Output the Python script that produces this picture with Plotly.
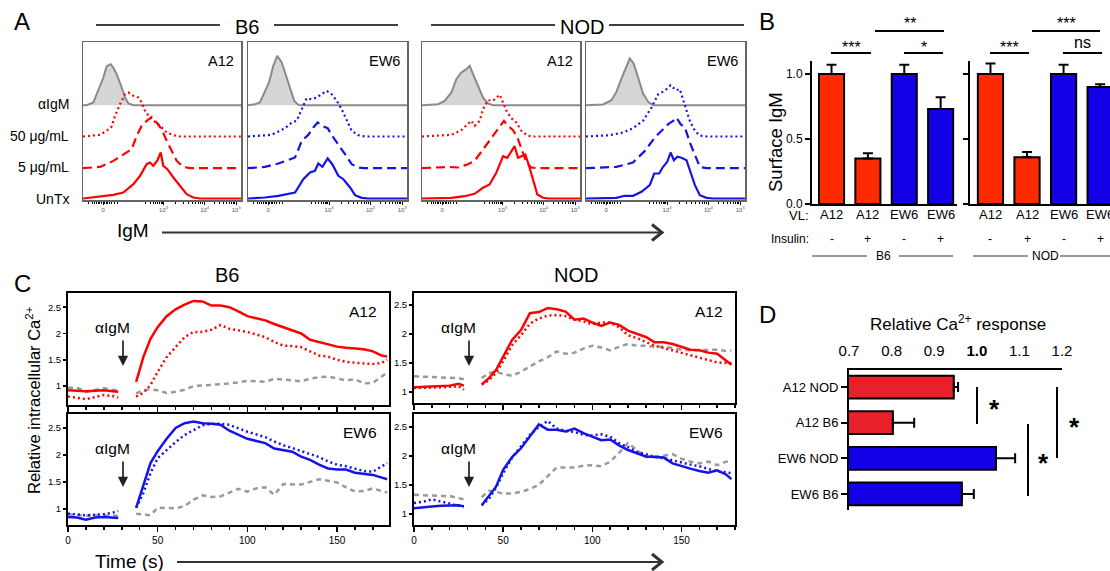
import math
import plotly.graph_objects as go

W, H = 1110, 571
FONT = "Liberation Sans, Arial, Helvetica, sans-serif"
RED = "#ff0000"
BLUE = "#1414e6"
GRAY_LINE = "#8a8a8a"
GRAY_FILL = "#d6d6d6"
CA_GRAY = "#9a9a9a"
BAR_RED = "#ff2a00"
BAR_BLUE = "#1400e6"
D_RED = "#e8202a"
D_BLUE = "#1400e6"

# ---------------- DATA ----------------
# Panel A: IgM histograms (x = position across log/biex IgM axis, 0-100; y = normalised count)
HIST_TICKS = [12.7, 51, 77, 97]
HIST_TICKTEXT = ["0", "10<sup>3</sup>", "10<sup>4</sup>", "10<sup>5</sup>"]
HIST_ROWS = ["UnTx", "5 μg/mL", "50 μg/mL", "αIgM"]
HIST_OFFSETS = [0, 30.3, 62, 93.3]

b6_a12_gray = [(0, 0), (2.3, 0), (6.5, 2.7), (9.7, 14.3), (12.9, 27.7), (15, 39), (17.5, 41), (19.2, 37.7), (21.7, 29.3), (24.5, 17.7), (26.6, 7.7), (28.7, 1.7), (31.9, 0), (100, 0)]
b6_a12_50 = [(0, 0), (10.8, 1.7), (15, 5.7), (18, 9.7), (20.3, 20.7), (23.4, 32.3), (26.6, 42.3), (28.7, 44), (31.9, 40.7), (35, 39), (37.1, 34), (39.2, 25.7), (42.4, 19), (45.6, 15), (48.7, 10.7), (53, 4), (57.2, 1.3), (61.4, 0), (100, 0)]
b6_a12_5 = [(0, 0), (10.8, 1.3), (19.2, 7.3), (27.6, 15.7), (30.8, 19), (34, 32.3), (37.1, 42.3), (40.3, 47.3), (43.5, 51.3), (46.6, 45.7), (49.8, 39), (53, 27.3), (56.1, 17.3), (59.3, 7.3), (63.5, 1.3), (67.7, 0), (100, 0)]
b6_a12_untx = [(0, 0), (10.8, 1.7), (19.2, 3.7), (25.5, 6), (31.9, 14.3), (36.1, 22.7), (40.3, 34.3), (42.4, 36), (44.5, 32.7), (47, 37.7), (49.2, 46), (50.8, 32.7), (53.4, 29.3), (57.2, 21), (61.4, 12.7), (65.6, 4.3), (69.8, 1), (74, 0), (100, 0)]

b6_ew6_gray = [(0, 0), (4.4, 1), (7.5, 2.7), (10.7, 14.3), (13.2, 22.7), (15.9, 39.3), (18.4, 49.3), (21.2, 42.7), (23.7, 31), (26.4, 16), (29.1, 4.3), (31.7, 0.3), (34, 0), (100, 0)]
b6_ew6_50 = [(0, 0), (14.9, 1.7), (23.3, 8.3), (27.5, 14), (30.6, 15.7), (33.8, 27.3), (36.9, 38.3), (40, 37.3), (43.2, 39), (46.3, 42.3), (49.5, 45.7), (52.6, 42.3), (55.8, 35.7), (58.9, 27.3), (62.1, 15.7), (65.2, 5.7), (69.4, 1.3), (73.5, 0), (100, 0)]
b6_ew6_5 = [(0, 0), (10.7, 1.3), (19.1, 4.7), (25.4, 8), (29.6, 10.7), (33.8, 27.3), (37.9, 33.3), (41.1, 40.7), (43.8, 45.7), (46.8, 42.3), (50.1, 40), (53, 32.3), (56.8, 24), (61, 14), (65.2, 4), (69.4, 0.7), (73, 0), (100, 0)]
b6_ew6_untx = [(0, 0), (10.7, 1), (19.1, 2.7), (24.3, 4.3), (29.6, 6), (34.8, 19.3), (39, 26), (42.1, 27.7), (44.2, 35), (46.8, 31.7), (50.1, 40), (53, 34.3), (56.8, 22.7), (60, 19.3), (64.2, 11), (67.3, 3.3), (71.5, 0.7), (75.7, 0), (100, 0)]

nod_a12_gray = [(0, 0), (10.1, 1), (14.3, 4.3), (18.6, 12.7), (21.7, 26), (24.9, 32.7), (28.1, 36), (30.2, 39.3), (32.3, 31), (35.4, 19.3), (38.6, 7.7), (41.8, 1.7), (45, 0), (100, 0)]
nod_a12_50 = [(0, 0), (18.6, 1.7), (24.9, 6.3), (29.1, 12.3), (31.2, 15.7), (33.3, 10.7), (36.5, 15.7), (38.6, 27.3), (41.8, 36.3), (44.9, 35.7), (47, 39), (49.2, 41.7), (51.3, 34), (53.4, 25.7), (56.5, 18.3), (59.7, 14), (62.9, 5.7), (67.1, 0.7), (71, 0), (100, 0)]
nod_a12_5 = [(0, 0), (16.5, 1.3), (22.8, 0.7), (29.1, 4), (33.3, 7.3), (39.7, 20.7), (46, 34), (49.2, 40.7), (51.9, 47.3), (54.4, 42.3), (57.6, 38), (60.3, 31.3), (63.3, 17.3), (66, 5.7), (69.2, 0.7), (73, 0), (100, 0)]
nod_a12_untx = [(0, 0), (18.6, 0.7), (27, 2.3), (33.3, 4.7), (38.6, 10.7), (42.8, 14), (47, 25.7), (51.3, 42.3), (54, 40.7), (56.1, 45.7), (58.6, 52.3), (60.8, 40.7), (62.9, 42.3), (65.4, 44), (67.5, 34), (70.3, 17.3), (73, 4), (76.6, 0.7), (80, 0), (100, 0)]

nod_ew6_gray = [(0, 0), (10.7, 0.7), (16, 5), (19.1, 13.3), (22.3, 26.7), (25.4, 38.3), (27.5, 46.7), (30, 41.7), (32.8, 26.7), (35.9, 11.7), (39.1, 3.3), (42.2, 0), (100, 0)]
nod_ew6_50 = [(0, 0), (14.9, 1.3), (23.3, 4), (29.6, 8.3), (35.9, 15.7), (41.2, 29), (45.4, 42.3), (49.6, 45.7), (53.2, 51.3), (56.5, 46.3), (59, 47.3), (62.2, 32.3), (65.3, 15.7), (68.5, 5.7), (71.6, 1), (75.8, 0), (100, 0)]
nod_ew6_5 = [(0, 0), (19.1, 1.3), (29.6, 5.7), (37, 17.3), (43.3, 30.7), (47.5, 37.3), (51.7, 44), (54.8, 47.3), (56.9, 50.7), (59.5, 44), (62.2, 40.7), (65.3, 25.7), (68.5, 12.3), (71.6, 1.3), (75.8, 0), (100, 0)]
nod_ew6_untx = [(0, 0), (19.1, 0.7), (24.4, 2.7), (29.6, 2.7), (34.9, 6.7), (40.1, 13.3), (42.9, 25), (46, 25), (48.5, 31.7), (51.1, 36.7), (53.2, 46), (55.3, 38.3), (57.4, 41.7), (60.1, 40.7), (63.2, 38.3), (65.8, 25), (68.5, 13.3), (71.6, 3.3), (75.8, 0.7), (80, 0), (100, 0)]

# Panel B: surface IgM
VL_LABELS = ["A12", "A12", "EW6", "EW6"]
INSULIN = ["-", "+", "-", "+"]
B6_SURFACE = [1.0, 0.35, 1.0, 0.73]
B6_SURFACE_ERR = [0.07, 0.04, 0.07, 0.09]
NOD_SURFACE = [1.0, 0.36, 1.0, 0.90]
NOD_SURFACE_ERR = [0.08, 0.04, 0.07, 0.02]

# Panel C: relative intracellular Ca2+ over time (s); gap while anti-IgM is added
CA_TIME = [0, 5, 10, 15, 20, 25, 28, None, 38, 42, 46, 50, 55, 60, 65, 70, 75, 80, 85, 90, 95, 100,
           105, 110, 115, 120, 125, 130, 135, 140, 145, 150, 155, 160, 165, 170, 175, 178]
b6_a12_ca_untx = [0.92, 0.91, 0.9, 0.91, 0.92, 0.9, 0.89, None, 1.08, 1.55, 1.9, 2.12, 2.33, 2.46, 2.55, 2.62, 2.61, 2.53, 2.53, 2.5, 2.42, 2.33, 2.29, 2.25, 2.18, 2.12, 2.07, 2.0, 1.88, 1.84, 1.8, 1.75, 1.73, 1.71, 1.7, 1.66, 1.58, 1.56]
b6_a12_ca_ins = [0.8, 0.78, 0.75, 0.79, 0.83, 0.81, 0.78, None, 0.8, 0.87, 1.02, 1.27, 1.55, 1.74, 1.93, 2.03, 2.03, 2.07, 2.16, 2.09, 2.06, 2.03, 1.98, 1.93, 1.84, 1.77, 1.76, 1.74, 1.66, 1.58, 1.56, 1.5, 1.46, 1.44, 1.43, 1.42, 1.44, 1.5]
b6_a12_ca_ctrl = [0.97, 0.97, 0.89, 0.93, 0.96, 0.93, 0.92, None, 0.86, 0.92, 0.94, 0.92, 0.87, 0.89, 0.93, 1.0, 1.01, 1.02, 1.03, 1.05, 1.07, 1.1, 1.09, 1.08, 1.14, 1.12, 1.1, 1.09, 1.14, 1.17, 1.18, 1.14, 1.11, 1.13, 1.05, 1.06, 1.18, 1.26]
b6_ew6_ca_untx = [0.85, 0.84, 0.8, 0.84, 0.85, 0.84, 0.83, None, 1.02, 1.42, 1.85, 2.07, 2.3, 2.5, 2.59, 2.62, 2.59, 2.58, 2.56, 2.45, 2.37, 2.3, 2.26, 2.22, 2.12, 2.09, 2.06, 1.97, 1.91, 1.82, 1.75, 1.73, 1.73, 1.67, 1.65, 1.63, 1.58, 1.55]
b6_ew6_ca_ins = [0.91, 0.9, 0.88, 0.89, 0.9, 0.93, 0.96, None, 1.02, 1.29, 1.66, 1.94, 2.09, 2.24, 2.37, 2.46, 2.55, 2.58, 2.58, 2.56, 2.49, 2.43, 2.38, 2.33, 2.25, 2.18, 2.13, 2.07, 2.02, 1.96, 1.88, 1.82, 1.79, 1.74, 1.7, 1.69, 1.8, 1.85]
b6_ew6_ca_ctrl = [0.9, 0.89, 0.87, 0.88, 0.87, 0.87, 0.87, None, 0.91, 0.89, 0.88, 1.02, 1.01, 1.01, 1.05, 1.17, 1.25, 1.22, 1.23, 1.3, 1.37, 1.32, 1.38, 1.4, 1.26, 1.46, 1.46, 1.45, 1.5, 1.55, 1.52, 1.49, 1.4, 1.32, 1.33, 1.38, 1.33, 1.3]
nod_a12_ca_untx = [1.08, 1.09, 1.09, 1.1, 1.11, 1.14, 1.11, None, 1.13, 1.24, 1.38, 1.61, 1.9, 2.07, 2.36, 2.38, 2.45, 2.43, 2.39, 2.25, 2.27, 2.2, 2.14, 2.2, 2.16, 2.06, 2.0, 1.95, 1.86, 1.86, 1.83, 1.78, 1.73, 1.72, 1.68, 1.66, 1.55, 1.47]
nod_a12_ca_ins = [1.07, 1.07, 1.07, 1.08, 1.09, 1.1, 1.04, None, 1.13, 1.2, 1.33, 1.53, 1.81, 1.98, 2.18, 2.27, 2.32, 2.33, 2.31, 2.25, 2.22, 2.17, 2.2, 2.2, 2.12, 1.98, 1.93, 1.87, 1.8, 1.76, 1.72, 1.67, 1.63, 1.6, 1.55, 1.51, 1.5, 1.5]
nod_a12_ca_ctrl = [1.27, 1.27, 1.26, 1.25, 1.24, 1.24, 1.22, None, 1.24, 1.33, 1.35, 1.31, 1.28, 1.35, 1.44, 1.53, 1.6, 1.7, 1.66, 1.68, 1.75, 1.8, 1.77, 1.72, 1.78, 1.83, 1.8, 1.8, 1.78, 1.78, 1.76, 1.73, 1.72, 1.72, 1.73, 1.73, 1.71, 1.72]
nod_ew6_ca_untx = [1.1, 1.12, 1.13, 1.14, 1.14, 1.15, 1.13, None, 1.15, 1.3, 1.47, 1.76, 1.98, 2.13, 2.33, 2.54, 2.45, 2.45, 2.42, 2.47, 2.39, 2.33, 2.27, 2.28, 2.18, 2.1, 2.04, 1.99, 1.98, 1.97, 1.87, 1.82, 1.78, 1.74, 1.71, 1.75, 1.68, 1.6]
nod_ew6_ca_ins = [1.19, 1.21, 1.25, 1.22, 1.18, 1.14, 1.13, None, 1.15, 1.26, 1.45, 1.7, 1.97, 2.16, 2.36, 2.5, 2.6, 2.47, 2.43, 2.41, 2.36, 2.35, 2.37, 2.33, 2.22, 2.15, 2.07, 2.03, 1.98, 1.96, 1.92, 1.88, 1.85, 1.82, 1.78, 1.73, 1.72, 1.7]
nod_ew6_ca_ctrl = [1.33, 1.32, 1.31, 1.31, 1.31, 1.28, 1.25, None, 1.29, 1.4, 1.38, 1.35, 1.35, 1.38, 1.43, 1.5, 1.65, 1.8, 1.8, 1.8, 1.83, 1.84, 1.82, 1.9, 2.05, 2.22, 2.1, 1.98, 1.99, 2.0, 2.03, 1.95, 1.9, 1.87, 1.9, 1.84, 1.9, 1.9]
CA_YTICKS = [1, 1.5, 2, 2.5]
CA_XTICKS = [0, 50, 100, 150]

# Panel D: relative Ca2+ response
D_LABELS = ["A12 NOD", "A12 B6", "EW6 NOD", "EW6 B6"]
D_VALUES = [0.946, 0.803, 1.045, 0.965]
D_ERR = [0.01, 0.05, 0.045, 0.028]
D_TICKS = [0.7, 0.8, 0.9, 1.0, 1.1, 1.2]


# ---------------- helpers ----------------
def fx(p):
    return p / W


def fy(p):
    return 1 - p / H


def ax_id(i, letter):
    return letter if i == 1 else f"{letter}{i}"


def ax_key(i, letter):
    return f"{letter}axis" if i == 1 else f"{letter}axis{i}"


fig = go.Figure()
layout = {}
annotations = []
shapes = []


def text(x, y, s, size, anchor="center", angle=0, color="black", yanchor="middle"):
    annotations.append(dict(x=fx(x), y=fy(y), xref="paper", yref="paper", text=s, showarrow=False,
                            xanchor=anchor, yanchor=yanchor, textangle=angle,
                            font=dict(size=size, color=color, family=FONT)))


def hline(x0, x1, y, color="black", width=1.5):
    shapes.append(dict(type="line", xref="paper", yref="paper", x0=fx(x0), x1=fx(x1), y0=fy(y), y1=fy(y),
                       line=dict(color=color, width=width)))


def vline(x, y0, y1, color="black", width=1.5):
    shapes.append(dict(type="line", xref="paper", yref="paper", x0=fx(x), x1=fx(x), y0=fy(y0), y1=fy(y1),
                       line=dict(color=color, width=width)))


def long_arrow(x0, x1, y):
    hline(x0, x1 - 2, y, color="#333333", width=2)
    shapes.append(dict(type="path", xref="paper", yref="paper",
                       path=f"M {fx(x1-10)},{fy(y-8)} L {fx(x1)},{fy(y)} L {fx(x1-10)},{fy(y+8)}",
                       line=dict(color="#333333", width=3)))


# ---------------- Panel A ----------------
minor_hist = ([12.7 + d for d in (-9, -7, -5.5, -4, -3, -2, -1, 1, 2, 3, 4, 5.5, 7, 9)]
              + [35 + 16 * math.log10(k) for k in range(2, 10)]
              + [51 + 26 * math.log10(k) for k in range(2, 10)]
              + [77 + 20 * math.log10(k) for k in range(2, 10)])

hist_boxes = [
    ((83, 241), "A12", RED, b6_a12_gray, b6_a12_50, b6_a12_5, b6_a12_untx),
    ((248, 407), "EW6", BLUE, b6_ew6_gray, b6_ew6_50, b6_ew6_5, b6_ew6_untx),
    ((422, 580), "A12", RED, nod_a12_gray, nod_a12_50, nod_a12_5, nod_a12_untx),
    ((586, 745), "EW6", BLUE, nod_ew6_gray, nod_ew6_50, nod_ew6_5, nod_ew6_untx),
]
for i, ((x0, x1), name, col, g, d50, d5, un) in enumerate(hist_boxes, start=1):
    xa, ya = ax_id(i, "x"), ax_id(i, "y")
    layout[ax_key(i, "x")] = dict(domain=[fx(x0), fx(x1)], range=[0, 100], anchor=ya, automargin=False,
                                  showline=True, mirror=True, linecolor="#666666", linewidth=1.5,
                                  showgrid=False, zeroline=False, tickvals=HIST_TICKS, ticktext=HIST_TICKTEXT,
                                  ticks="outside", ticklen=3, tickcolor="black", tickwidth=1,
                                  minor=dict(tickvals=minor_hist, ticks="outside", ticklen=2, tickcolor="black"),
                                  tickfont=dict(size=6, color="#555555", family=FONT))
    layout[ax_key(i, "y")] = dict(domain=[fy(200), fy(42)], range=[-1.5, 156.5], anchor=xa, automargin=False,
                                  showline=True, mirror=True, linecolor="#666666", linewidth=1.5,
                                  showgrid=False, zeroline=False, showticklabels=False, ticks="")
    off = HIST_OFFSETS
    fig.add_trace(go.Scatter(x=[p[0] for p in g], y=[off[3] + p[1] for p in g], mode="lines",
                             fill="toself", fillcolor=GRAY_FILL, line=dict(color=GRAY_LINE, width=2),
                             xaxis=xa, yaxis=ya, showlegend=False, hoverinfo="skip"))
    fig.add_trace(go.Scatter(x=[p[0] for p in d50], y=[off[2] + p[1] for p in d50], mode="lines",
                             line=dict(color=col, width=2.2, dash="2px,3px"),
                             xaxis=xa, yaxis=ya, showlegend=False))
    fig.add_trace(go.Scatter(x=[p[0] for p in d5], y=[off[1] + p[1] for p in d5], mode="lines",
                             line=dict(color=col, width=2.2, dash="9px,5px"),
                             xaxis=xa, yaxis=ya, showlegend=False))
    fig.add_trace(go.Scatter(x=[p[0] for p in un], y=[off[0] + p[1] for p in un], mode="lines",
                             line=dict(color=col, width=2.2),
                             xaxis=xa, yaxis=ya, showlegend=False))
    text(x1 - 5, 61, name, 14.5, anchor="right")

row_y = [199, 167, 136, 104]
for lab, yy in zip(HIST_ROWS, row_y):
    text(71, yy, lab, 14, anchor="right")

text(22, 22, "A", 24)
text(247, 27, "B6", 20)
hline(96, 220, 25)
hline(274, 398, 25)
text(582, 27, "NOD", 20)
hline(431, 555, 25)
hline(609, 744, 25)
text(133, 231, "IgM", 19)
long_arrow(162, 662, 232.5)

# ---------------- Panel B ----------------
b_cols = [BAR_RED, BAR_RED, BAR_BLUE, BAR_BLUE]
b_specs = [
    (5, (812, 957), [-0.537, 3.45], B6_SURFACE, B6_SURFACE_ERR, True),
    (6, (970, 1110), [-0.56, 3.27], NOD_SURFACE, NOD_SURFACE_ERR, False),
]
for i, (xd0, xd1), xr, vals, errs, labels in b_specs:
    xa, ya = ax_id(i, "x"), ax_id(i, "y")
    layout[ax_key(i, "x")] = dict(domain=[fx(xd0), fx(xd1)], range=xr, anchor=ya, showline=True, automargin=False,
                                  linecolor="black", linewidth=2, showgrid=False, zeroline=False,
                                  showticklabels=False, ticks="")
    layout[ax_key(i, "y")] = dict(domain=[fy(204), fy(60.9)], range=[0, 1.1], anchor=xa, showline=True,
                                  automargin=False,
                                  linecolor="black", linewidth=2, showgrid=False, zeroline=False,
                                  tickvals=[0, 0.5, 1.0], ticktext=["0.0", "0.5", "1.0"],
                                  showticklabels=labels, ticks="outside", ticklen=5, tickwidth=1.5,
                                  tickcolor="black", tickfont=dict(size=12, family=FONT, color="black"))
    fig.add_trace(go.Bar(x=[0, 1, 2, 3], y=vals, width=0.69, marker=dict(color=b_cols, line=dict(color="black", width=2)),
                         error_y=dict(type="data", array=errs, arrayminus=[0, 0, 0, 0], symmetric=False,
                                      color="black", thickness=2, width=5),
                         xaxis=xa, yaxis=ya, showlegend=False))
    for k in range(4):
        annotations.append(dict(x=k, y=fy(214), xref=xa, yref="paper", text=VL_LABELS[k], showarrow=False,
                                font=dict(size=13, family=FONT, color="black")))
        annotations.append(dict(x=k, y=fy(239), xref=xa, yref="paper", text=INSULIN[k], showarrow=False,
                                font=dict(size=12, family=FONT, color="black")))

text(767, 22, "B", 24)
text(776, 142, "Surface IgM", 18.5, angle=-90)
text(811, 215, "VL:", 13, anchor="right")
text(811, 239, "Insulin:", 12, anchor="right")
text(883, 256, "B6", 12)
hline(812, 867, 256, color="#333333", width=1.2)
hline(899, 953, 256, color="#333333", width=1.2)
text(1045, 256, "NOD", 12)
hline(973, 1028, 256, color="#333333", width=1.2)
hline(1060, 1110, 256, color="#333333", width=1.2)
# significance
for (xs0, xs1, yl, lab, ylab) in [(831, 871, 53, "***", 47), (904, 943, 53, "*", 47), (875, 944, 31, "**", 24),
                                  (990, 1029, 53, "***", 47), (1063, 1102, 53, "ns", 43), (1032, 1100, 31, "***", 24)]:
    hline(xs0, xs1, yl, width=2)
    text((xs0 + xs1) / 2, ylab, lab, 16)

# ---------------- Panel C ----------------
c_specs = [
    (7, (68, 389), (293, 405), [0, 179], [0.64, 2.77], False, "A12",
     b6_a12_ca_ctrl, b6_a12_ca_ins, b6_a12_ca_untx, RED),
    (8, (68, 389), (414, 525), [0, 179], [0.70, 2.76], True, "EW6",
     b6_ew6_ca_ctrl, b6_ew6_ca_ins, b6_ew6_ca_untx, BLUE),
    (9, (414, 735), (293, 403), [0, 180], [0.81, 2.71], False, "A12",
     nod_a12_ca_ctrl, nod_a12_ca_ins, nod_a12_ca_untx, RED),
    (10, (414, 735), (414, 525), [0, 180], [0.81, 2.72], True, "EW6",
     nod_ew6_ca_ctrl, nod_ew6_ca_ins, nod_ew6_ca_untx, BLUE),
]
for i, (xd0, xd1), (yt, yb), xr, yr, showx, name, ctrl, ins, untx, col in c_specs:
    xa, ya = ax_id(i, "x"), ax_id(i, "y")
    layout[ax_key(i, "x")] = dict(domain=[fx(xd0), fx(xd1)], range=xr, anchor=ya, showline=True, mirror=True,
                                  automargin=False,
                                  linecolor="black", linewidth=2, showgrid=False, zeroline=False,
                                  tickvals=CA_XTICKS, showticklabels=showx, ticks="outside", ticklen=5,
                                  tickwidth=1.5, tickcolor="black",
                                  minor=dict(dtick=10, tick0=0, ticks="outside", ticklen=3, tickcolor="black"),
                                  tickfont=dict(size=10, family=FONT, color="black"))
    layout[ax_key(i, "y")] = dict(domain=[fy(yb), fy(yt)], range=yr, anchor=xa, showline=True, mirror=True,
                                  automargin=False,
                                  linecolor="black", linewidth=2, showgrid=False, zeroline=False,
                                  tickvals=CA_YTICKS, ticktext=["1", "1.5", "2", "2.5"], ticks="outside",
                                  ticklen=3, tickwidth=1.5, tickcolor="black",
                                  tickfont=dict(size=9.5, family=FONT, color="black"))
    fig.add_trace(go.Scatter(x=CA_TIME, y=ctrl, mode="lines", connectgaps=False,
                             line=dict(color=CA_GRAY, width=2.5, dash="5px,4px"),
                             xaxis=xa, yaxis=ya, showlegend=False))
    fig.add_trace(go.Scatter(x=CA_TIME, y=ins, mode="lines", connectgaps=False,
                             line=dict(color=col, width=2.5, dash="2px,3px"),
                             xaxis=xa, yaxis=ya, showlegend=False))
    fig.add_trace(go.Scatter(x=CA_TIME, y=untx, mode="lines", connectgaps=False,
                             line=dict(color=col, width=2.5),
                             xaxis=xa, yaxis=ya, showlegend=False))
    text(xd1 - 10, yt + 18, name, 15.5, anchor="right")
    # anti-IgM marker
    ax_x = xd0 + 55
    text(ax_x - 11, yt + 34, "αIgM", 15.5)
    annotations.append(dict(x=fx(ax_x), y=fy(yt + 73), xref="paper", yref="paper", ax=0, ay=-27, text="",
                            showarrow=True, arrowhead=2, arrowsize=1.2, arrowwidth=1.7, arrowcolor="#222222"))

text(22, 283, "C", 24)
text(227, 275, "B6", 20)
text(576, 275, "NOD", 20)
text(33, 400, "Relative intracellular Ca<sup>2+</sup>", 16.5, angle=-90)
text(129, 561, "Time (s)", 19)
long_arrow(177, 662, 562)

# ---------------- Panel D ----------------
i = 11
xa, ya = ax_id(i, "x"), ax_id(i, "y")
layout[ax_key(i, "x")] = dict(domain=[fx(849), fx(1062)], range=[0.7, 1.2], anchor=ya, side="top",
                              automargin=False,
                              showline=True, linecolor="black", linewidth=2, showgrid=False, zeroline=False,
                              tickvals=D_TICKS, ticktext=["0.7", "0.8", "0.9", "<b>1.0</b>", "1.1", "1.2"],
                              ticks="outside", ticklen=6, tickcolor="rgba(0,0,0,0)",
                              tickfont=dict(size=15, family=FONT, color="black"))
layout[ax_key(i, "y")] = dict(domain=[fy(510), fy(370)], range=[3.45, -0.48], anchor=xa, showline=True,
                              automargin=False,
                              linecolor="black", linewidth=2, showgrid=False, zeroline=False,
                              tickvals=[0, 1, 2, 3], ticktext=D_LABELS, ticks="outside", ticklen=6,
                              tickwidth=2, tickcolor="black", tickfont=dict(size=13, family=FONT, color="black"))
fig.add_trace(go.Bar(y=[0, 1, 2, 3], x=D_VALUES, orientation="h", width=0.64,
                     marker=dict(color=[D_RED, D_RED, D_BLUE, D_BLUE], line=dict(color="black", width=2)),
                     error_x=dict(type="data", array=D_ERR, arrayminus=[0, 0, 0, 0], symmetric=False,
                                  color="black", thickness=2, width=5),
                     xaxis=xa, yaxis=ya, showlegend=False))

text(767, 314, "D", 24)
text(958, 323, "Relative Ca<sup>2+</sup> response", 17)
vline(977, 387, 424, width=2)
text(994, 409, "<b>*</b>", 26)
vline(1028, 424, 496, width=2)
text(1043, 463, "<b>*</b>", 26)
vline(1057, 387, 458, width=2)
text(1074, 427, "<b>*</b>", 26)

fig.update_layout(width=W, height=H, autosize=False, margin=dict(l=0, r=0, t=0, b=0, autoexpand=False),
                  paper_bgcolor="white", plot_bgcolor="white", showlegend=False, hovermode=False,
                  font=dict(family=FONT, color="black"), bargap=0,
                  annotations=annotations, shapes=shapes, **layout)

fig.write_html("out.html", config={"displayModeBar": False, "staticPlot": True},
               post_script="document.body.style.margin='0';document.body.style.padding='0';"
                           "document.documentElement.style.overflow='hidden';")
